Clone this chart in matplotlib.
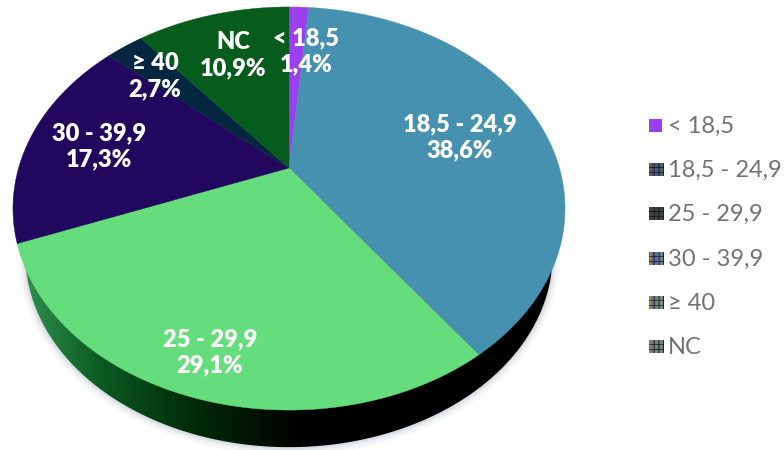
import numpy as np
import matplotlib
matplotlib.use("Agg")
import matplotlib.pyplot as plt
from matplotlib.patches import PathPatch, Polygon
from matplotlib.path import Path
from matplotlib.colors import LinearSegmentedColormap, to_rgb

categories = ["< 18,5", "18,5 - 24,9", "25 - 29,9", "30 - 39,9", "≥ 40", "NC"]
values = [1.4, 38.6, 29.1, 17.3, 2.7, 10.9]
value_labels = ["1,4%", "38,6%", "29,1%", "17,3%", "2,7%", "10,9%"]
colors = ["#9B3FF0", "#4690B0", "#66DD7D", "#21085E", "#05263F", "#065C1D"]

fig = plt.figure(figsize=(7.84, 4.5), dpi=100, facecolor="white")
ax = fig.add_axes([0, 0, 1, 1])
ax.set_xlim(0, 784)
ax.set_ylim(450, 0)
ax.axis("off")

CX, CY = 289.0, 168.0
A, B, K = 270.4, 193.4, 0.201


def project(theta, s=1.0, dy=0.0):
    x, y = np.sin(theta), np.cos(theta)
    d = 1 + K * y
    return CX + s * A * x / d, CY + dy - s * B * y / d


def rim(a0, a1, s=1.0, dy=0.0):
    t = np.linspace(a0, a1, max(3, int((a1 - a0) * 120)))
    return np.column_stack(project(t, s, dy))


# soft shadow, side wall
S, DY = 0.955, 48.0
for grow, alpha in [(7, .05), (5, .07), (3, .10), (1.5, .14)]:
    pts = rim(0, 2 * np.pi, S + grow / 276, DY + grow * 0.3)
    ax.add_patch(Polygon(pts, closed=True, fc="#8a9aa8", ec="none", alpha=alpha, zorder=1))

wall_path = Path(rim(0, 2 * np.pi, S, DY))
cmap = LinearSegmentedColormap.from_list("wall", [(0, "#2F8F4C"), (.28, "#0A5A22"), (.62, "#012A08"), (1, "#000000")])
grad = np.linspace(0, 1, 256).reshape(1, -1)
im = ax.imshow(grad, extent=(25, 300, 450, 200), cmap=cmap, aspect="auto", zorder=2)
im.set_clip_path(PathPatch(wall_path, transform=ax.transData))
black = ax.imshow(np.zeros((1, 2)), extent=(300, 570, 450, 200), cmap="gray", vmin=0, vmax=1, aspect="auto", zorder=2)
black.set_clip_path(PathPatch(wall_path, transform=ax.transData))

# top face
edges = np.concatenate([[0], np.cumsum(values)]) / sum(values) * 2 * np.pi
for a0, a1, c in zip(edges[:-1], edges[1:], colors):
    pts = np.vstack([[CX, CY], rim(a0, a1)])
    ax.add_patch(Polygon(pts, closed=True, fc=c, ec=c, lw=.3, zorder=3))

# labels
label_xy = [(306, 51), (460, 137), (210, 352), (99, 146), (155, 76), (233, 55)]
for (x, y), cat, val in zip(label_xy, categories, value_labels):
    ax.text(x, y, f"{cat}\n{val}", color="white", ha="center", va="center",
            fontsize=17, fontweight="heavy", family="Lato", linespacing=1.22, zorder=5)

# legend
legend_y = [126, 170, 214, 259, 303, 347]
stripe_sets = [
    None,
    ["#2F6A8A", "#8A4A44", "#3E7A55", "#4A3E8A"],
    ["#3A4A42", "#4A3A36", "#35503C", "#3A3650"],
    ["#3F6FB0", "#C08A50", "#4E8A70", "#6A5AB0"],
    ["#5A8A90", "#B09A58", "#5A9070", "#7A6AA0"],
    ["#6A8A80", "#8A8060", "#6A9070", "#7A7090"],
]
for y, cat, c, stripes in zip(legend_y, categories, colors, stripe_sets):
    if stripes is None:
        ax.add_patch(Polygon([(649, y - 7), (662, y - 7), (662, y + 6), (649, y + 6)],
                             closed=True, fc=c, ec="none", zorder=4))
    else:
        img = np.zeros((13, 16, 3))
        for col in range(16):
            img[:, col] = to_rgb(stripes[col % 4])
        img[:, 5] = img[:, 10] = img[:, 15] = 0.12
        img[[4, 9], :] *= 0.45
        ax.imshow(img, extent=(649, 664, y + 6, y - 7), aspect="auto", interpolation="bilinear", zorder=4)
    ax.text(668, y, cat, color="#727272", ha="left", va="center", fontsize=17, family="Lato", zorder=5)

ax.set_xlim(0, 784)
ax.set_ylim(450, 0)
fig.savefig("out.png", dpi=100)
